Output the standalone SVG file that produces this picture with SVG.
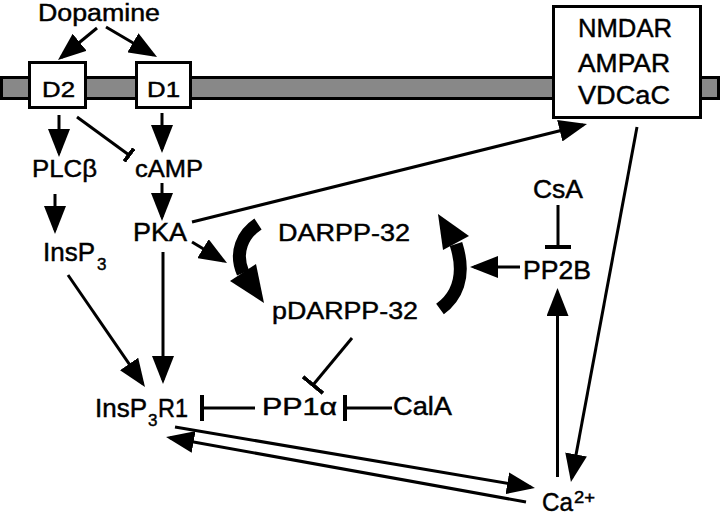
<svg xmlns="http://www.w3.org/2000/svg" width="720" height="516" viewBox="0 0 720 516">
<style>
text{font-family:"Liberation Sans",Arial,sans-serif;fill:#000;stroke:#000;stroke-width:0.45;}
.c{fill:none;stroke:#000;stroke-width:3;}
.box{fill:#fff;stroke:#000;stroke-width:3;}
</style>
<defs>
<marker id="ah" markerUnits="userSpaceOnUse" markerWidth="30" markerHeight="22" refX="24" refY="11" orient="auto"><path d="M0,0 L28,11 L0,22 z" fill="#000"/></marker>
<marker id="tee" markerUnits="userSpaceOnUse" markerWidth="4" markerHeight="26" refX="2" refY="13" orient="auto"><rect x="0" y="0" width="4" height="26" fill="#000"/></marker>
<marker id="tees" markerUnits="userSpaceOnUse" markerWidth="4" markerHeight="16" refX="2" refY="8" orient="auto"><rect x="0" y="0" width="4" height="16" fill="#000"/></marker>
</defs>
<rect id="membrane" x="1.5" y="77.5" width="717" height="21" fill="#888" stroke="#000" stroke-width="3"/>
<g id="dopamine"><text x="38" y="21" font-size="23" textLength="122" lengthAdjust="spacingAndGlyphs">Dopamine</text></g>
<g id="D2"><rect class="box" x="29.5" y="62.5" width="56" height="45"/><text x="42" y="97" font-size="22" textLength="33" lengthAdjust="spacingAndGlyphs">D2</text></g>
<g id="D1"><rect class="box" x="136.5" y="62.5" width="54" height="45"/><text x="147" y="97" font-size="22" textLength="33" lengthAdjust="spacingAndGlyphs">D1</text></g>
<g id="channels"><rect class="box" x="553.5" y="6.5" width="147" height="111"/>
<text x="578" y="37" font-size="26" textLength="94" lengthAdjust="spacingAndGlyphs">NMDAR</text>
<text x="578" y="72" font-size="26" textLength="92" lengthAdjust="spacingAndGlyphs">AMPAR</text>
<text x="578" y="104" font-size="26" textLength="92" lengthAdjust="spacingAndGlyphs">VDCaC</text></g>
<g id="PLCb"><text x="32" y="177" font-size="24" textLength="65" lengthAdjust="spacingAndGlyphs">PLCβ</text></g>
<g id="cAMP"><text x="135" y="177" font-size="24" textLength="68" lengthAdjust="spacingAndGlyphs">cAMP</text></g>
<g id="PKA"><text x="133" y="241" font-size="25" textLength="54" lengthAdjust="spacingAndGlyphs">PKA</text></g>
<g id="InsP3"><text x="43" y="261" font-size="25"><tspan textLength="52" lengthAdjust="spacingAndGlyphs">InsP</tspan><tspan x="97" y="270" font-size="17">3</tspan></text></g>
<g id="DARPP"><text x="278" y="241" font-size="24" textLength="132" lengthAdjust="spacingAndGlyphs">DARPP-32</text></g>
<g id="pDARPP"><text x="272" y="319" font-size="24" textLength="146" lengthAdjust="spacingAndGlyphs">pDARPP-32</text></g>
<g id="CsA"><text x="533" y="198" font-size="25" textLength="50" lengthAdjust="spacingAndGlyphs">CsA</text></g>
<g id="PP2B"><text x="523" y="279" font-size="25" textLength="68" lengthAdjust="spacingAndGlyphs">PP2B</text></g>
<g id="InsP3R1"><text x="95" y="417" font-size="25"><tspan textLength="52" lengthAdjust="spacingAndGlyphs">InsP</tspan><tspan x="148" y="426" font-size="17">3</tspan><tspan x="158" y="417" textLength="30" lengthAdjust="spacingAndGlyphs">R1</tspan></text></g>
<g id="PP1a"><text x="262" y="415" font-size="24" textLength="75" lengthAdjust="spacingAndGlyphs">PP1α</text></g>
<g id="CalA"><text x="393" y="415" font-size="25" textLength="59" lengthAdjust="spacingAndGlyphs">CalA</text></g>
<g id="Ca"><text x="542" y="511" font-size="26"><tspan textLength="31" lengthAdjust="spacingAndGlyphs">Ca</tspan><tspan x="574" y="503" font-size="16" textLength="21" lengthAdjust="spacingAndGlyphs">2+</tspan></text></g>
<g id="cycle">
<path d="M258,224 C243,234 234,252 243,273" fill="none" stroke="#000" stroke-width="13"/>
<polygon points="230,281 256,264 264,303" fill="#000"/>
<path d="M440,309 C455,298 467,278 456,244" fill="none" stroke="#000" stroke-width="13"/>
<polygon points="469,236 443,250 438,214" fill="#000"/>
</g>
<g id="connectors">
<line class="c" x1="97" y1="28" x2="61.1" y2="57.5" marker-end="url(#ah)"/>
<line class="c" x1="106" y1="27" x2="153.6" y2="55" marker-end="url(#ah)"/>
<line class="c" x1="59" y1="115" x2="59" y2="153" marker-end="url(#ah)"/>
<line class="c" x1="77" y1="117" x2="129" y2="155" marker-end="url(#tees)"/>
<line class="c" x1="162" y1="113" x2="162" y2="149" marker-end="url(#ah)"/>
<line class="c" x1="55" y1="194" x2="55" y2="230" marker-end="url(#ah)"/>
<line class="c" x1="162" y1="183" x2="162" y2="217" marker-end="url(#ah)"/>
<line class="c" x1="163" y1="252" x2="163" y2="380" marker-end="url(#ah)"/>
<line class="c" x1="68" y1="275" x2="142.7" y2="383.7" marker-end="url(#ah)"/>
<line class="c" x1="192" y1="222" x2="583.1" y2="125" marker-end="url(#ah)"/>
<line class="c" x1="192" y1="242" x2="223.6" y2="261" marker-end="url(#ah)"/>
<line class="c" x1="637" y1="127" x2="571.7" y2="478" marker-end="url(#ah)"/>
<line class="c" x1="557.5" y1="477" x2="557.5" y2="292" marker-end="url(#ah)"/>
<line class="c" x1="558" y1="205" x2="558" y2="247" marker-end="url(#tee)"/>
<line class="c" x1="520" y1="267" x2="474" y2="267" marker-end="url(#ah)"/>
<line class="c" x1="352" y1="338" x2="313" y2="385" marker-end="url(#tee)"/>
<line class="c" x1="255" y1="408" x2="202" y2="408" marker-end="url(#tee)"/>
<line class="c" x1="392" y1="408" x2="345" y2="408" marker-end="url(#tee)"/>
<line class="c" x1="175" y1="427" x2="531" y2="487.3" marker-end="url(#ah)"/>
<line class="c" x1="526" y1="502" x2="170" y2="437.7" marker-end="url(#ah)"/>
</g>
</svg>
